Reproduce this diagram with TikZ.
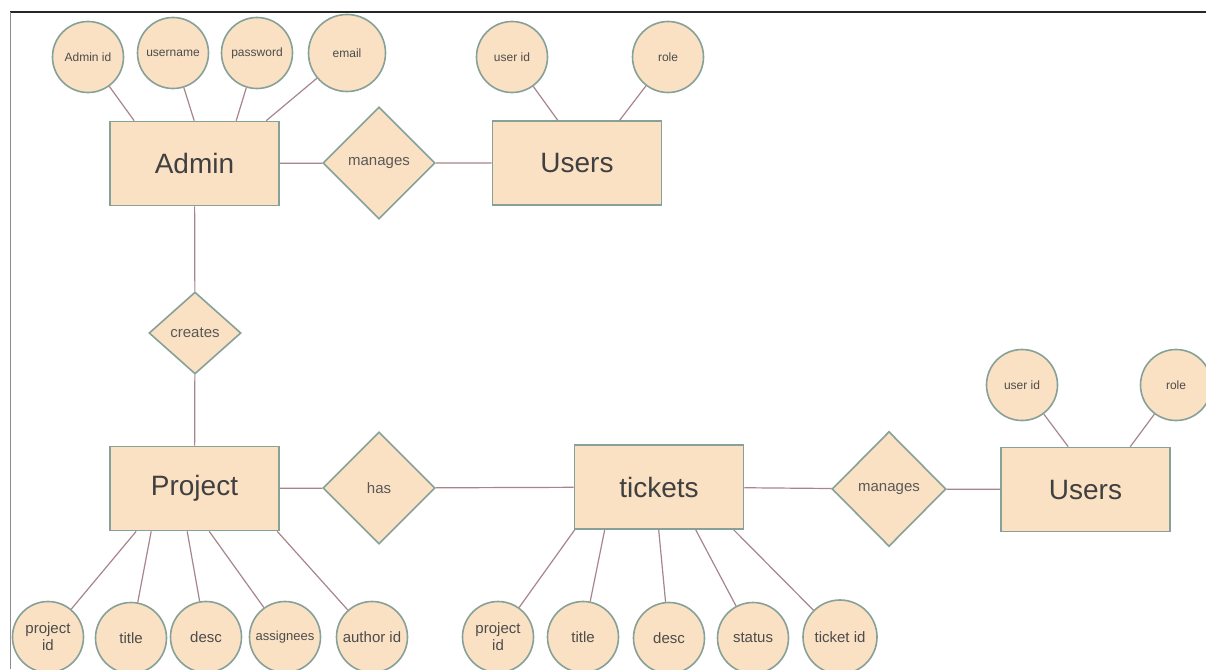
\documentclass[tikz,border=0pt]{standalone}
\usepackage{fontspec}
\setmainfont{Liberation Sans}
\usetikzlibrary{shapes.geometric}
\definecolor{peach}{HTML}{FAE1C3}
\definecolor{edge}{HTML}{86A197}
\definecolor{link}{HTML}{A8858B}
\begin{document}
\begin{tikzpicture}[x=1pt,y=-1pt,
    entity/.style={rectangle,draw=edge,fill=peach,line width=1.6pt,minimum width=169,minimum height=84,text=black!75,font=\fontsize{28}{30}\selectfont},
    rel/.style={diamond,draw=edge,fill=peach,line width=1.6pt,inner sep=0pt,minimum width=112,minimum height=112,text=black!65,font=\fontsize{15}{17}\selectfont},
    attr/.style={circle,draw=edge,fill=peach,line width=1.6pt,inner sep=0pt,minimum size=71,align=center,text=black!70,font=\fontsize{12}{14}\selectfont},
    lowattr/.style={attr,font=\fontsize{15}{17}\selectfont},
    link/.style={draw=link,line width=1.2pt}]
    \useasboundingbox (0,0) rectangle (1206,669);
    \fill[white] (0,0) rectangle (1206,669);
    \draw[black!85,line width=1.5pt] (10,12) -- (1206,12);
    \draw[black!45,line width=1pt] (10,12) -- (10,669);

    % entities
    \node[entity] (admin) at (194.5,163.5) {Admin};
    \node[entity] (users) at (577,163) {Users};
    \node[entity] (project) at (194.5,488.5) {Project};
    \node[entity] (tickets) at (659,487) {tickets};
    \node[entity] (users2) at (1085.5,489.5) {Users};

    % relations
    \node[rel] (manages) at (379,163) {manages};
    \node[rel,minimum width=92,minimum height=82] (creates) at (195,333) {creates};
    \node[rel] (has) at (379,488) {has};
    \node[rel,minimum width=114,minimum height=115] (manages2) at (889,489) {manages};

    % attributes
    \node[attr] (adminid) at (88,57) {Admin id};
    \node[attr] (username) at (173,53) {username};
    \node[attr] (password) at (257,53) {password};
    \node[attr,minimum size=77] (email) at (347,53) {email};
    \node[attr] (userid) at (512,57) {user id};
    \node[attr] (role) at (668,57) {role};
    \node[lowattr] (pid) at (48,637) {project\\id};
    \node[lowattr] (title) at (131,638) {title};
    \node[lowattr] (desc) at (206,637) {desc};
    \node[attr,font=\fontsize{13}{15}\selectfont] (assignees) at (285,637) {assignees};
    \node[lowattr] (authorid) at (372,637) {author id};
    \node[lowattr] (tpid) at (498,637) {project\\id};
    \node[lowattr] (ttitle) at (583,637) {title};
    \node[lowattr] (tdesc) at (669,638) {desc};
    \node[lowattr] (status) at (753,638) {status};
    \node[lowattr,minimum size=74] (ticketid) at (840,637) {ticket id};
    \node[attr] (userid2) at (1022,385) {user id};
    \node[attr] (role2) at (1176,385) {role};

    % connectors
    \path[link] (admin) -- (manages) -- (users);
    \path[link] (admin) -- (creates) -- (project);
    \path[link] (project) -- (has) -- (tickets);
    \path[link] (tickets) -- (manages2) -- (users2);

    \path[link] (adminid) -- ([xshift=25]admin.north west);
    \path[link] (username) -- ([xshift=85]admin.north west);
    \path[link] (password) -- ([xshift=127]admin.north west);
    \path[link] (email) -- ([xshift=157]admin.north west);
    \path[link] (userid) -- ([xshift=66]users.north west);
    \path[link] (role) -- ([xshift=128]users.north west);

    \path[link] (pid) -- ([xshift=27]project.south west);
    \path[link] (title) -- ([xshift=42]project.south west);
    \path[link] (desc) -- ([xshift=78]project.south west);
    \path[link] (assignees) -- ([xshift=100]project.south west);
    \path[link] (authorid) -- ([xshift=168]project.south west);

    \path[link] (tpid) -- ([xshift=1]tickets.south west);
    \path[link] (ttitle) -- ([xshift=31]tickets.south west);
    \path[link] (tdesc) -- ([xshift=85]tickets.south west);
    \path[link] (status) -- ([xshift=122]tickets.south west);
    \path[link] (ticketid) -- ([xshift=160]tickets.south west);

    \path[link] (userid2) -- ([xshift=68]users2.north west);
    \path[link] (role2) -- ([xshift=130]users2.north west);
\end{tikzpicture}
\end{document}
